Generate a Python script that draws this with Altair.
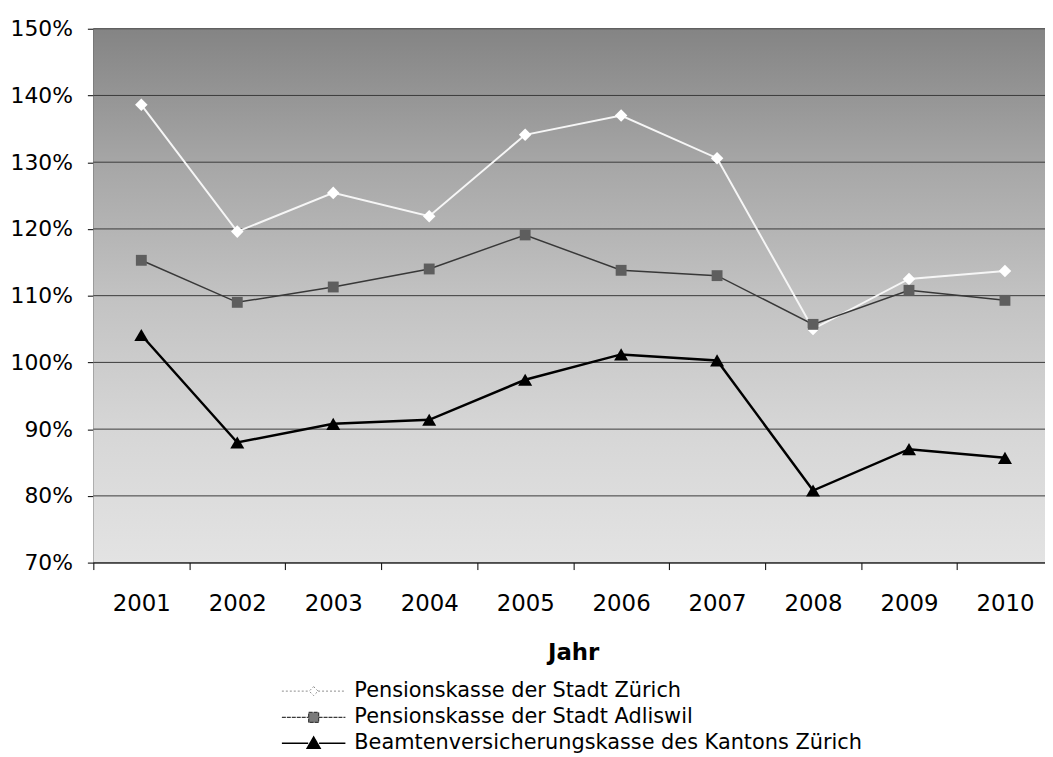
import altair as alt
import pandas as pd

# ---------------- data ----------------
years = ["2001", "2002", "2003", "2004", "2005", "2006", "2007", "2008", "2009", "2010"]
zurich = [138.6, 119.6, 125.4, 121.9, 134.1, 137.0, 130.6, 105.0, 112.5, 113.7]
adliswil = [115.3, 109.0, 111.3, 114.0, 119.1, 113.8, 113.0, 105.7, 110.8, 109.3]
beamte = [104.1, 88.0, 90.8, 91.4, 97.4, 101.2, 100.3, 80.8, 87.0, 85.7]
series_names = [
    "Pensionskasse der Stadt Zürich",
    "Pensionskasse der Stadt Adliswil",
    "Beamtenversicherungskasse des Kantons Zürich",
]
y_ticks = [70, 80, 90, 100, 110, 120, 130, 140, 150]

rows = []
for name, vals in zip(series_names, [zurich, adliswil, beamte]):
    for yr, v in zip(years, vals):
        rows.append({"Jahr": yr, "Wert": v, "Serie": name})
df = pd.DataFrame(rows)
grid_df = pd.DataFrame({"Wert": y_ticks})

# ---------------- layout ----------------
FONT = "DejaVu Sans"
W, H = 959, 538
X_RANGE = [0, 967]

x_enc = alt.X(
    "Jahr:O",
    sort=years,
    bandPosition=0.5,
    scale=alt.Scale(type="band", domain=years, range=X_RANGE, paddingInner=0, paddingOuter=0),
    axis=alt.Axis(
        title="Jahr", titleFontSize=23, titleFontWeight="bold", titleColor="black",
        titleFont=FONT, titleBaseline="alphabetic", titleY=98,
        labelAngle=0, labelFontSize=23, labelFont=FONT, labelColor="black", labelPadding=23,
        tickBand="extent", tickSize=7, tickColor="black", domainColor="black",
        grid=False,
    ),
)
y_enc = alt.Y(
    "Wert:Q",
    scale=alt.Scale(domain=[70, 150], nice=False, zero=False),
    axis=alt.Axis(
        title=None, values=y_ticks, labelExpr="datum.value + '%'",
        labelFontSize=22, labelFont=FONT, labelColor="black", labelPadding=15,
        tickSize=6, tickColor="black", domainColor="black", grid=False,
    ),
)

bg = alt.Chart(alt.Data(values=[{"k": 1}])).mark_rect(
    color=alt.LinearGradient(
        gradient="linear",
        stops=[
            alt.GradientStop(color="#848484", offset=0),
            alt.GradientStop(color="#a6a6a6", offset=0.25),
            alt.GradientStop(color="#c2c2c2", offset=0.5),
            alt.GradientStop(color="#d6d6d6", offset=0.75),
            alt.GradientStop(color="#e3e3e3", offset=1),
        ],
        x1=0, x2=0, y1=0, y2=1,
    )
).encode(x=alt.value(0), x2=alt.value(X_RANGE[1]), y=alt.value(0), y2=alt.value(H))

grid = alt.Chart(grid_df).mark_rule(color="#3a3a3a", strokeWidth=1).encode(
    y=y_enc, x=alt.value(0), x2=alt.value(X_RANGE[1])
)

styles = [
    dict(line="#f6f6f6", lw=2, shape="diamond", size=160, fill="#ffffff"),
    dict(line="#383838", lw=1.5, shape="square", size=120, fill="#5e5e5e"),
    dict(line="#000000", lw=2.5, shape="triangle-up", size=200, fill="#000000"),
]

layers = [bg, grid]
for name, st in zip(series_names, styles):
    base = alt.Chart(df).transform_filter(alt.datum.Serie == name)
    layers.append(base.mark_line(color=st["line"], strokeWidth=st["lw"]).encode(x=x_enc, y=y_enc))
for name, st in zip(series_names, styles):
    base = alt.Chart(df).transform_filter(alt.datum.Serie == name)
    layers.append(
        base.mark_point(shape=st["shape"], size=st["size"], filled=True, color=st["fill"], opacity=1)
        .encode(x=x_enc, y=y_enc)
    )

# legend-only layer (no marks drawn, legend from explicit domains)
leg_paths = [
    "M-3.2,0H-0.45M0,-0.45L0.45,0L0,0.45L-0.45,0ZM0.45,0H3.2",
    "M-3.2,0H-0.5M-0.5,-0.5H0.5V0.5H-0.5ZM0.5,0H3.2",
    "M-3.2,0H-0.55M0,-0.62L0.65,0.5H-0.65ZM0.55,0H3.2",
]
legend = alt.Legend(
    title=None, orient="none", legendX=211, legendY=657, padding=0,
    labelFontSize=21, labelFont=FONT, labelColor="black", labelOffset=30, labelLimit=0,
    rowPadding=5, symbolSize=400, symbolOpacity=1,
)
leg = alt.Chart(df).transform_filter("false").mark_point(filled=True, opacity=1, size=400).encode(
    x=x_enc, y=y_enc,
    fill=alt.Fill("Serie:N", scale=alt.Scale(domain=series_names, range=["#ffffff", "#7a7a7a", "#000000"]), legend=legend),
    stroke=alt.Stroke("Serie:N", scale=alt.Scale(domain=series_names, range=["#8c8c8c", "#3a3a3a", "#000000"]), legend=legend),
    shape=alt.Shape("Serie:N", scale=alt.Scale(domain=series_names, range=leg_paths), legend=legend),
    strokeWidth=alt.StrokeWidth("Serie:N", scale=alt.Scale(domain=series_names, range=[1, 1.5, 2]), legend=legend),
    strokeDash=alt.StrokeDash("Serie:N", scale=alt.Scale(domain=series_names, range=[[2, 2], [4, 1], [1, 0]]), legend=legend),
)
layers.append(leg)

chart = (
    alt.layer(*layers)
    .properties(
        width=W, height=H,
        padding={"left": 86, "top": 18, "right": 0, "bottom": 193},
        autosize=alt.AutoSizeParams(type="none"),
        background="white",
    )
    .configure_view(stroke=None)
)

chart.save("out.html", embed_options={"renderer": "svg", "actions": False})
